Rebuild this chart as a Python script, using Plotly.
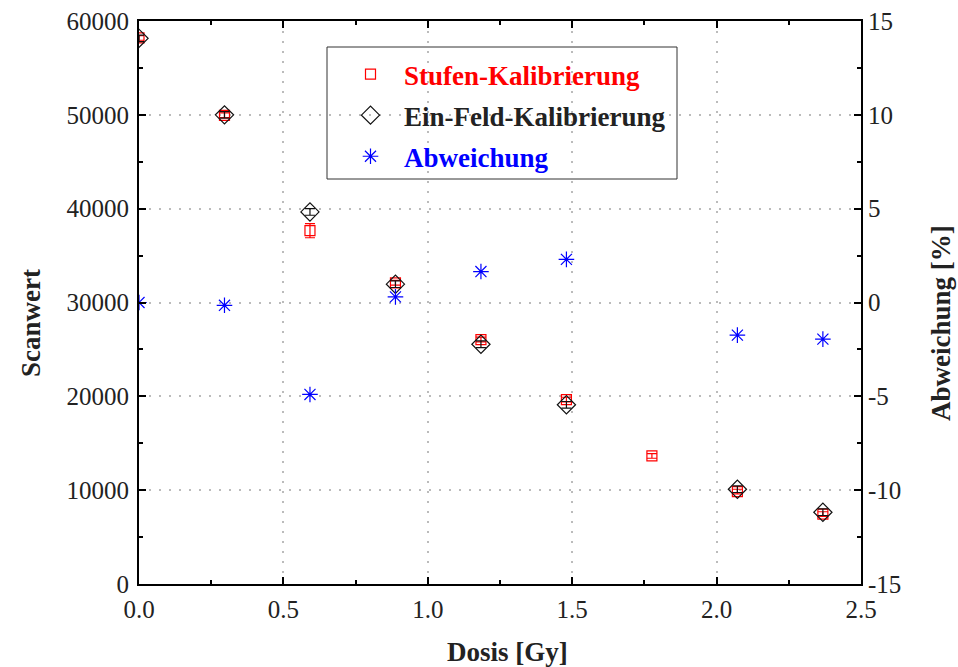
import plotly.graph_objects as go

# Dose values [Gy]
dosis = [0.0, 0.296, 0.592, 0.888, 1.184, 1.480, 1.776, 2.072, 2.368]

# Scan values from step calibration (with uncertainties)
stufen = [58200, 49950, 37650, 32100, 26050, 19650, 13650, 9850, 7450]
stufen_err = [250, 250, 750, 250, 250, 250, 250, 250, 250]

# Scan values from single-field calibration
einfeld = [58150, 50000, 39650, 31950, 25550, 19100, None, 10100, 7650]
einfeld_err = [350, 350, 350, 350, 350, 350, None, 350, 350]

# Relative deviation [%]
abweichung = [0.0, -0.15, -4.9, 0.3, 1.65, 2.3, None, -1.74, -1.95]

# Tick positions and labels
x_ticks = [0.0, 0.5, 1.0, 1.5, 2.0, 2.5]
x_ticklabels = ["0.0", "0.5", "1.0", "1.5", "2.0", "2.5"]
y_ticks = [0, 10000, 20000, 30000, 40000, 50000, 60000]
y_ticklabels = ["0", "10000", "20000", "30000", "40000", "50000", "60000"]
y2_ticks = [-15, -10, -5, 0, 5, 10, 15]
y2_ticklabels = ["-15", "-10", "-5", "0", "5", "10", "15"]

FONT = "Liberation Serif"
TXT = "#222222"
TICK_SIZE = 25
TITLE_SIZE = 27

# plot area in pixels
L, R, T, B = 139, 861, 21, 584
W, H = R - L, B - T


def px_x(p):
    return (p - L) / W


def px_y(p):
    return (B - p) / H


fig = go.Figure()

fig.add_trace(go.Scatter(
    x=dosis, y=stufen, mode="markers", yaxis="y",
    name="<span style='color:#ff0000'>Stufen-Kalibrierung</span>",
    legendgroup="a",
    marker=dict(symbol="square-open", size=10, color="#ff0000", line=dict(width=1.2)),
    error_y=dict(type="data", array=stufen_err, color="#ff0000", thickness=1.2, width=5),
))
fig.add_trace(go.Scatter(
    x=dosis, y=einfeld, mode="markers", yaxis="y",
    name="<span style='color:#222222'>Ein-Feld-Kalibrierung</span>",
    legendgroup="b",
    marker=dict(symbol="diamond-open", size=14, color="#111111", line=dict(width=1.2)),
    error_y=dict(type="data", array=einfeld_err, color="#111111", thickness=1.2, width=5),
))
fig.add_trace(go.Scatter(
    x=dosis, y=abweichung, mode="markers", yaxis="y2",
    name="<span style='color:#0000ff'>Abweichung</span>",
    legendgroup="c",
    marker=dict(symbol="asterisk-open", size=13, color="#0000ff", line=dict(width=1.2, color="#0000ff")),
))

grid = dict(showgrid=True, gridcolor="#bbbbbb", gridwidth=2, griddash="2px,8px")
axis_common = dict(
    showline=True, linecolor="black", linewidth=2,
    ticks="inside", ticklen=7, tickwidth=1.5, tickcolor="black",
    zeroline=False, automargin=False,
    tickfont=dict(family=FONT, size=TICK_SIZE, color=TXT),
)
title_font = dict(family=FONT, size=TITLE_SIZE, color=TXT)

fig.update_layout(
    width=958, height=667,
    margin=dict(l=L, r=958 - R, t=T, b=667 - B),
    paper_bgcolor="white", plot_bgcolor="white",
    font=dict(family=FONT, size=TICK_SIZE, color=TXT),
    showlegend=True,
    legend=dict(
        x=px_x(337), y=px_y(50), xanchor="left", yanchor="top",
        bgcolor="rgba(0,0,0,0)", borderwidth=0,
        font=dict(family=FONT, size=TITLE_SIZE, weight="bold"),
        tracegroupgap=3, itemwidth=57,
    ),
    # legend frame
    shapes=[dict(
        type="rect", xref="paper", yref="paper",
        x0=px_x(327), x1=px_x(677), y0=px_y(179), y1=px_y(47),
        line=dict(color="#333333", width=1), fillcolor="white", layer="below",
    )],
    annotations=[
        dict(text="<b>Dosis [Gy]</b>", xref="paper", yref="paper",
             x=px_x(507), y=px_y(652), xanchor="center", yanchor="middle",
             showarrow=False, font=title_font),
        dict(text="<b>Scanwert</b>", xref="paper", yref="paper",
             x=px_x(31), y=px_y(323), xanchor="center", yanchor="middle",
             textangle=-90, showarrow=False, font=title_font),
        dict(text="<b>Abweichung [%]</b>", xref="paper", yref="paper",
             x=px_x(941), y=px_y(323), xanchor="center", yanchor="middle",
             textangle=-90, showarrow=False, font=title_font),
    ],
    xaxis=dict(
        range=[0, 2.5], tickvals=x_ticks, ticktext=x_ticklabels, mirror="ticks",
        minor=dict(ticks="inside", ticklen=4, dtick=0.25, tickcolor="black", tickwidth=1.5, showgrid=False),
        ticklabelstandoff=2,
        **axis_common, **grid,
    ),
    yaxis=dict(
        range=[0, 60000], tickvals=y_ticks, ticktext=y_ticklabels,
        minor=dict(ticks="inside", ticklen=4, dtick=5000, tickcolor="black", tickwidth=1.5, showgrid=False),
        ticklabelstandoff=3,
        **axis_common, **grid,
    ),
    yaxis2=dict(
        range=[-15, 15], tickvals=y2_ticks, ticktext=y2_ticklabels, overlaying="y", side="right",
        minor=dict(ticks="inside", ticklen=4, dtick=2.5, tickcolor="black", tickwidth=1.5, showgrid=False),
        showgrid=False,
        **axis_common,
    ),
)

fig.write_html("out.html")
